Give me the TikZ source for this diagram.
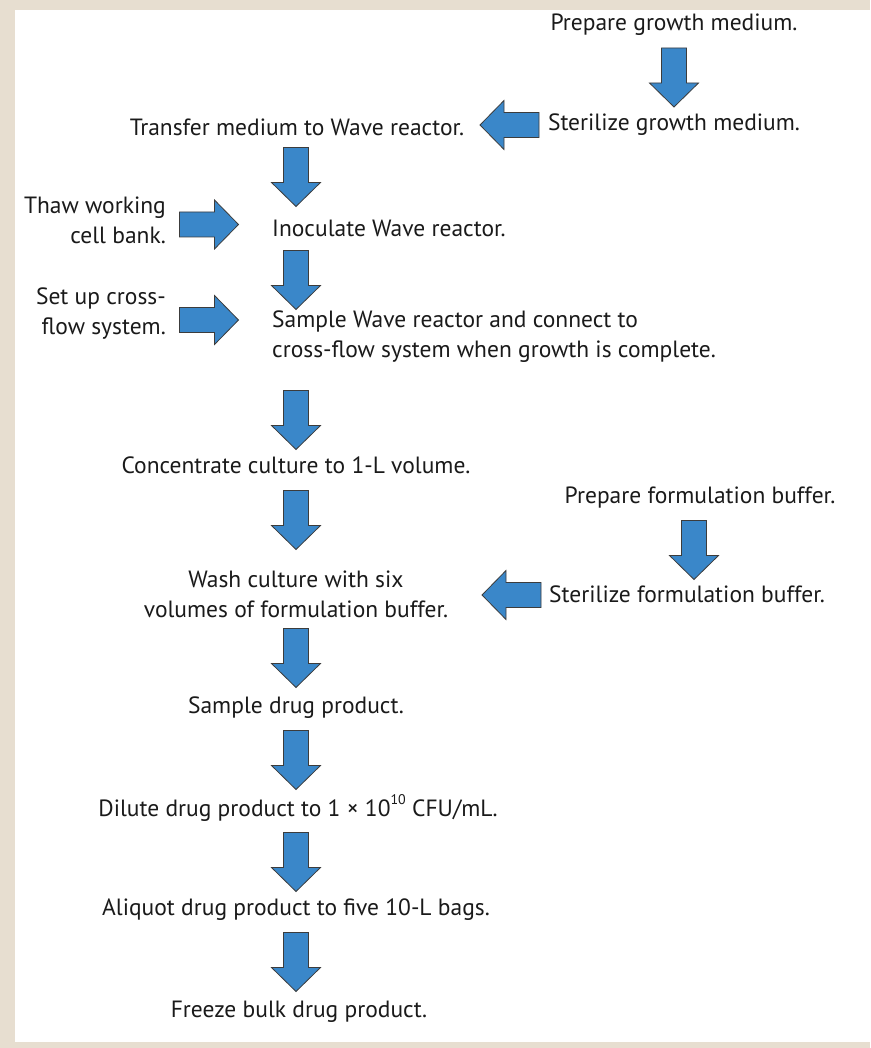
\documentclass[tikz,border=0pt]{standalone}
\usepackage{fontspec}
\setmainfont{PT Sans}
\definecolor{beige}{HTML}{E7DED0}
\definecolor{arrblue}{HTML}{3A87C9}
\definecolor{arredge}{HTML}{3C3C3C}
\definecolor{txt}{HTML}{1A1A1A}
\begin{document}
\begin{tikzpicture}[x=1pt,y=-1pt,
  lbl/.style={inner sep=0pt, text=txt, font=\fontsize{23.5}{30}\selectfont},
  blockarrow/.style={fill=arrblue, draw=arredge, line width=0.8pt, line join=miter},
  darrow/.pic={\draw[blockarrow] (-12.5,-29.5) -- (12.5,-29.5) -- (12.5,5.5) -- (24.5,5.5) -- (0,29.5) -- (-24.5,5.5) -- (-12.5,5.5) -- cycle;}
]
\useasboundingbox (0,0) rectangle (870,1048);
\fill[beige] (0,0) rectangle (870,1048);
\fill[white] (15,10) rectangle (870,1042);

% right branch top
\node[lbl] (pgm) at (674,25) {Prepare growth medium.};
\pic at (674,77.5) {darrow};
\node[lbl] (sgm) at (674,125) {Sterilize growth medium.};
\pic[rotate=-90] at (509.5,125) {darrow};

% main column
\node[lbl] (tmw) at (297,127) {Transfer medium to Wave reactor.};
\pic at (296,177) {darrow};
\node[lbl, anchor=west] (iwr) at (272,228) {Inoculate Wave reactor.};
\node[lbl, anchor=east, align=right] (thaw) at (166,220) {Thaw working\\cell bank.};
\pic[rotate=90] at (209,224.5) {darrow};
\pic at (296,280) {darrow};
\node[lbl, anchor=east, align=right] (setup) at (166,314) {Set up cross-\\flow system.};
\pic[rotate=90] at (209,320) {darrow};
\node[lbl, anchor=west, align=left] (samp) at (272,337) {Sample Wave reactor and connect to\\cross-flow system when growth is complete.};
\pic at (296,420) {darrow};
\node[lbl] (conc) at (296,465) {Concentrate culture to 1-L volume.};
\pic at (296,520) {darrow};

% right branch bottom
\node[lbl] (pfb) at (700,498) {Prepare formulation buffer.};
\pic at (694,550) {darrow};
\node[lbl, anchor=west] (sfb) at (549,594) {Sterilize formulation buffer.};
\pic[rotate=-90] at (511.5,595) {darrow};

\node[lbl, align=center] (wash) at (296,594) {Wash culture with six\\volumes of formulation buffer.};
\pic at (296,658) {darrow};
\node[lbl] (sdp) at (296,708) {Sample drug product.};
\pic at (296,760) {darrow};
\node[lbl] (dil) at (298,808) {Dilute drug product to 1 × 10\raisebox{0.55em}{\fontsize{14}{14}\selectfont 10} CFU/mL.};
\pic at (296,862) {darrow};
\node[lbl] (ali) at (296,910) {Aliquot drug product to five 10-L bags.};
\pic at (296,962) {darrow};
\node[lbl] (frz) at (299,1012) {Freeze bulk drug product.};
\end{tikzpicture}
\end{document}
